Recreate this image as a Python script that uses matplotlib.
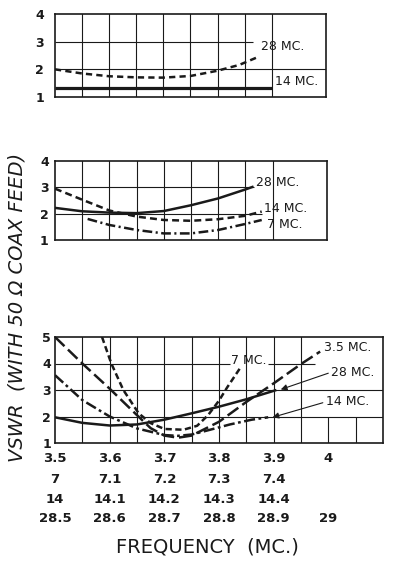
import numpy as np
import matplotlib
matplotlib.use("Agg")
import matplotlib.pyplot as plt

plt.rcParams['lines.scale_dashes'] = False
plt.rcParams['font.family'] = ['DejaVu Sans']

# frequencies are read on the 3.5 MC scale of the common x axis
top_28_freq = [3.50, 3.55, 3.60, 3.65, 3.70, 3.75, 3.80, 3.84, 3.875]
top_28_vswr = [2.00, 1.85, 1.75, 1.71, 1.70, 1.76, 1.95, 2.16, 2.45]
top_14_freq = [3.50, 3.90]
top_14_vswr = [1.33, 1.33]

mid_28_freq = [3.50, 3.55, 3.60, 3.65, 3.70, 3.75, 3.80, 3.85, 3.865]
mid_28_vswr = [2.22, 2.09, 2.04, 2.02, 2.10, 2.32, 2.58, 2.92, 3.03]
mid_14_freq = [3.50, 3.55, 3.60, 3.65, 3.70, 3.75, 3.80, 3.85, 3.88]
mid_14_vswr = [2.95, 2.53, 2.12, 1.89, 1.76, 1.73, 1.79, 1.92, 2.08]
mid_7_freq = [3.56, 3.60, 3.65, 3.70, 3.75, 3.80, 3.85, 3.88]
mid_7_vswr = [1.80, 1.57, 1.38, 1.25, 1.25, 1.38, 1.61, 1.76]

bot_35_freq = [3.50, 3.55, 3.60, 3.65, 3.675, 3.70, 3.725, 3.75, 3.80, 3.85, 3.90, 3.95, 3.985]
bot_35_vswr = [5.00, 4.00, 3.05, 2.05, 1.56, 1.28, 1.20, 1.28, 1.80, 2.55, 3.25, 3.98, 4.45]
bot_28_freq = [3.50, 3.55, 3.60, 3.65, 3.70, 3.75, 3.80, 3.85, 3.905]
bot_28_vswr = [1.97, 1.76, 1.66, 1.70, 1.88, 2.12, 2.37, 2.65, 3.00]
bot_14_freq = [3.50, 3.55, 3.60, 3.65, 3.70, 3.725, 3.75, 3.78, 3.82, 3.86, 3.89]
bot_14_vswr = [3.56, 2.62, 2.00, 1.55, 1.30, 1.27, 1.32, 1.48, 1.70, 1.88, 1.97]
bot_7_freq = [3.586, 3.603, 3.625, 3.653, 3.675, 3.70, 3.735, 3.76, 3.78, 3.80, 3.815, 3.84]
bot_7_vswr = [5.00, 4.00, 3.00, 2.12, 1.75, 1.53, 1.50, 1.65, 2.05, 2.60, 3.10, 3.87]

tick_pos = [3.5, 3.6, 3.7, 3.8, 3.9, 4.0]
tick_rows = [
    ["3.5", "3.6", "3.7", "3.8", "3.9", "4"],
    ["7", "7.1", "7.2", "7.3", "7.4", ""],
    ["14", "14.1", "14.2", "14.3", "14.4", ""],
    ["28.5", "28.6", "28.7", "28.8", "28.9", "29"],
]

INK = "#1a1a1a"
fig = plt.figure(figsize=(3.97, 5.65), dpi=100)
W, H = 397, 565
ax_top = fig.add_axes([55 / W, 1 - 97 / H, 271 / W, 83 / H])
ax_mid = fig.add_axes([55 / W, 1 - 240 / H, 272 / W, 79 / H])
ax_bot = fig.add_axes([55 / W, 1 - 443 / H, 328 / W, 106 / H])


def setup(ax, x_end, y_top, pad):
    ax.set_xlim(3.5, x_end)
    ax.set_ylim(1, y_top)
    ax.set_xticks([])
    ax.set_yticks(range(1, y_top + 1))
    ax.tick_params(axis='y', length=0, pad=pad, labelsize=9, labelcolor=INK)
    for lbl in ax.get_yticklabels():
        lbl.set_fontweight('bold')
    for s in ax.spines.values():
        s.set_linewidth(1.2)
        s.set_color(INK)


grid_kw = dict(color=INK, lw=0.8, zorder=1)
lbl_kw = dict(fontsize=9, color=INK, va='center', ha='left')
curve_kw = dict(color=INK, lw=1.8, zorder=3, solid_capstyle='butt')

# top panel
setup(ax_top, 4.0, 4, 8)
for x in np.arange(3.55, 3.91, 0.05):
    ax_top.axvline(x, **grid_kw)
ax_top.hlines(2, 3.5, 4.0, **grid_kw)
ax_top.hlines(3, 3.5, 3.865, **grid_kw)
ax_top.plot(top_28_freq, top_28_vswr, ls=(0, (4.5, 3)), **curve_kw)
ax_top.plot(top_14_freq, top_14_vswr, **dict(curve_kw, lw=2.3))
ax_top.text(3.88, 2.82, "28 MC.", **lbl_kw)
ax_top.text(3.905, 1.55, "14 MC.", **lbl_kw)

# middle panel
setup(ax_mid, 4.0, 4, 4.5)
for x in np.arange(3.55, 3.91, 0.05):
    ax_mid.axvline(x, **grid_kw)
ax_mid.hlines(3, 3.5, 3.865, **grid_kw)
ax_mid.hlines(2, 3.5, 3.88, **grid_kw)
ax_mid.plot(mid_28_freq, mid_28_vswr, **curve_kw)
ax_mid.plot(mid_14_freq, mid_14_vswr, ls=(0, (5, 3)), **curve_kw)
ax_mid.plot(mid_7_freq, mid_7_vswr, ls=(0, (7, 2.5, 1.5, 2.5)), **curve_kw)
ax_mid.text(3.87, 3.2, "28 MC.", **lbl_kw)
ax_mid.text(3.885, 2.2, "14 MC.", **lbl_kw)
ax_mid.text(3.889, 1.6, "7 MC.", **lbl_kw)

# bottom panel
setup(ax_bot, 4.1, 5, 3)
for x in np.arange(3.55, 3.96, 0.05):
    ax_bot.axvline(x, **grid_kw)
ax_bot.vlines([4.0, 4.05], 1, 2, **grid_kw)
ax_bot.hlines([2, 3], 3.5, 4.1, **grid_kw)
ax_bot.hlines(4, 3.5, 3.82, **grid_kw)
ax_bot.hlines(4, 3.89, 3.975, **grid_kw)
ax_bot.plot(bot_35_freq, bot_35_vswr, ls=(0, (9.5, 3.5)), **curve_kw)
ax_bot.plot(bot_28_freq, bot_28_vswr, **curve_kw)
ax_bot.plot(bot_14_freq, bot_14_vswr, ls=(0, (8, 2.5, 2, 2.5)), **curve_kw)
ax_bot.plot(bot_7_freq, bot_7_vswr, ls=(0, (4.5, 2.5)), **curve_kw)

ax_bot.text(3.822, 4.12, "7 MC.", **lbl_kw)
ax_bot.text(3.992, 4.62, "3.5 MC.", **lbl_kw)
arrow_kw = dict(arrowstyle='-|>', lw=0.8, color=INK, shrinkA=0, shrinkB=0,
                mutation_scale=9, relpos=(0, 0.5))
ax_bot.annotate("28 MC.", xy=(3.913, 3.02), xytext=(4.005, 3.67),
                arrowprops=arrow_kw, **lbl_kw)
ax_bot.annotate("14 MC.", xy=(3.898, 1.97), xytext=(3.995, 2.55),
                arrowprops=arrow_kw, **lbl_kw)

# stacked frequency scales under the bottom panel
offsets = [-10.8, -26.4, -40.8, -54.5]
for row, dy in zip(tick_rows, offsets):
    for x, s in zip(tick_pos, row):
        ax_bot.annotate(s, xy=(x, 0), xycoords=('data', 'axes fraction'),
                        xytext=(0, dy), textcoords='offset points',
                        ha='center', va='center', fontsize=9.5,
                        fontweight='bold', color=INK)

fig.text(207 / W, 1 - 547 / H, "FREQUENCY  (MC.)", ha='center', va='center',
         fontsize=14, color=INK)
fig.text(17 / W, 1 - 307 / H, "VSWR  (WITH 50 Ω COAX FEED)", rotation=90,
         ha='center', va='center', fontsize=14, style='italic', color=INK)

fig.savefig("out.png", dpi=100, facecolor='white')
